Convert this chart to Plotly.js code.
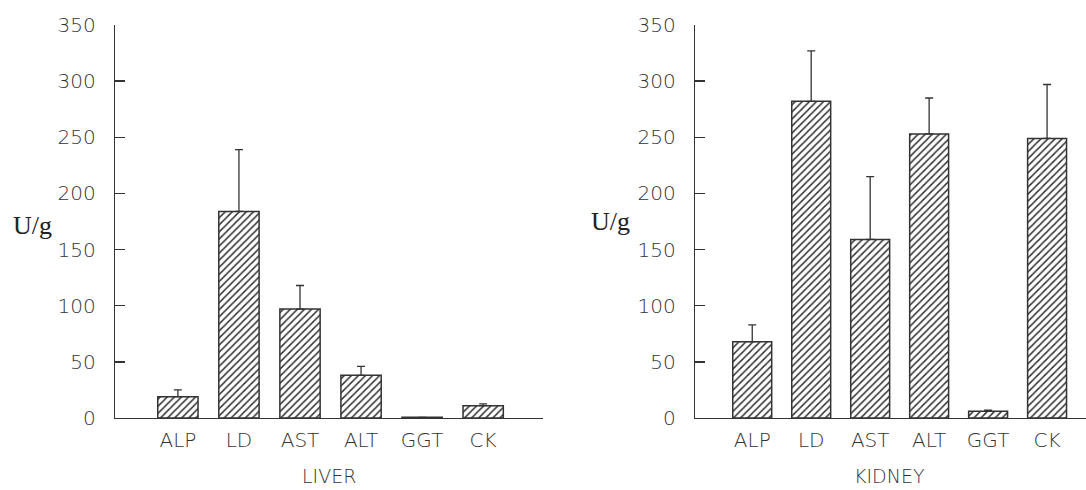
<!DOCTYPE html>
<html>
<head>
<meta charset="utf-8">
<script src="https://cdn.plot.ly/plotly-3.0.1.min.js"></script>
<style>html,body{margin:0;padding:0;background:#fff;}#chart{width:1086px;height:490px;}</style>
</head>
<body>
<div id="chart"></div>
<script>
const categories = ['ALP', 'LD', 'AST', 'ALT', 'GGT', 'CK'];
const liverMean = [19, 184, 97, 38, 0.6, 11];
const liverSD = [6, 55, 21, 8, 0, 1.5];
const kidneyMean = [68, 282, 159, 253, 6, 249];
const kidneySD = [15, 45, 56, 32, 1, 48];
const yTicks = [0, 50, 100, 150, 200, 250, 300, 350];
const panelTitles = ['LIVER', 'KIDNEY'];
const yUnit = 'U/g';

const tickFont = {family: 'DejaVu Sans', size: 20, color: '#333', weight: 200};
const lineCol = '#333';

function barTrace(means, sds, xa, ya) {
  return {
    type: 'bar', x: categories, y: means, xaxis: xa, yaxis: ya, width: 0.66,
    marker: {color: 'white', line: {color: lineCol, width: 1.5},
             pattern: {shape: '/', size: 5, solidity: 0.3, fgcolor: '#333', bgcolor: 'white'}},
    error_y: {type: 'data', symmetric: false, array: sds, arrayminus: sds.map(() => 0),
              color: lineCol, thickness: 1.3, width: 4},
    showlegend: false, hoverinfo: 'x+y'
  };
}

const xBase = {type: 'category', showline: true, linecolor: lineCol, linewidth: 1.3, ticks: '',
  showgrid: false, zeroline: false, tickfont: tickFont, ticklabelstandoff: 4, fixedrange: true};
const yBase = {range: [0, 350], tickvals: yTicks, ticktext: yTicks.map(String), showline: true,
  linecolor: lineCol, linewidth: 1.3, ticks: 'inside', ticklen: 10, tickcolor: lineCol, tickwidth: 1.3,
  showgrid: false, zeroline: false, tickfont: tickFont, ticklabelstandoff: 14, fixedrange: true};

function titleAnn(text, x) {
  return {text: text, xref: 'paper', yref: 'paper', x: x, y: -0.148, showarrow: false,
    font: {family: 'DejaVu Sans', size: 19, color: '#333', weight: 200}, xanchor: 'center', yanchor: 'middle',
    borderpad: 0};
}
function unitAnn(x, y) {
  return {text: yUnit, xref: 'paper', yref: 'paper', x: x, y: y, showarrow: false,
    font: {family: 'Liberation Serif', size: 26, color: '#222'}, xanchor: 'center', yanchor: 'middle'};
}

const layout = {
  width: 1086, height: 490,
  margin: {l: 0, r: 0, t: 25, b: 72},
  paper_bgcolor: 'white', plot_bgcolor: 'white',
  xaxis: Object.assign({}, xBase, {domain: [0.1059, 0.5], range: [-1.03, 5.98], anchor: 'y'}),
  yaxis: Object.assign({}, yBase, {anchor: 'x'}),
  xaxis2: Object.assign({}, xBase, {domain: [0.64, 1.0], range: [-0.97, 5.66], anchor: 'y2'}),
  yaxis2: Object.assign({}, yBase, {anchor: 'x2'}),
  annotations: [
    titleAnn(panelTitles[0], 0.303),
    titleAnn(panelTitles[1], 0.819),
    unitAnn(0.0295, 0.49),
    unitAnn(0.562, 0.50)
  ]
};

Plotly.newPlot('chart', [barTrace(liverMean, liverSD, 'x', 'y'), barTrace(kidneyMean, kidneySD, 'x2', 'y2')],
  layout, {displayModeBar: false, staticPlot: true});
</script>
</body>
</html>
